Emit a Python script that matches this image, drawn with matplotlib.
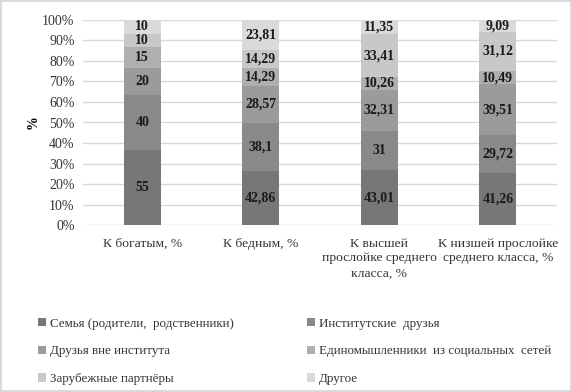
import numpy as np
import matplotlib.pyplot as plt

plt.rcParams['font.family'] = ['Liberation Serif', 'DejaVu Serif']

categories = ['К богатым, %', 'К бедным, %',
              'К высшей\nпрослойке среднего\nкласса, %',
              'К низшей прослойке\nсреднего класса, %']
series_names = ['Семья (родители,  родственники)', 'Институтские  друзья',
                'Друзья вне института', 'Единомышленники  из социальных  сетей',
                'Зарубежные партнёры', 'Другое']
family = [55, 42.86, 43.01, 41.26]
uni_friends = [40, 38.1, 31, 29.72]
other_friends = [20, 28.57, 32.31, 39.51]
social = [15, 14.29, 10.26, 10.49]
foreign = [10, 14.29, 33.41, 31.12]
other = [10, 23.81, 11.35, 9.09]
labels_txt = [
    ['55', '42,86', '43,01', '41,26'],
    ['40', '38,1', '31', '29,72'],
    ['20', '28,57', '32,31', '39,51'],
    ['15', '14,29', '10,26', '10,49'],
    ['10', '14,29', '33,41', '31,12'],
    ['10', '23,81', '11,35', '9,09'],
]
colors = ['#777777', '#898989', '#9b9b9b', '#afafaf', '#c8c8c8', '#dadada']

data = np.array([family, uni_friends, other_friends, social, foreign, other])
pct = data / data.sum(axis=0) * 100

fig = plt.figure(figsize=(5.72, 3.92), dpi=100)
fig.patch.set_edgecolor('#d9d9d9')
fig.patch.set_linewidth(1.5)
ax = fig.add_axes([0.145, 0.426, 0.829, 0.523])

x = np.arange(len(categories))
bottom = np.zeros(len(categories))
bars = []
for i in range(len(series_names)):
    b = ax.bar(x, pct[i], 0.31, bottom=bottom, color=colors[i], label=series_names[i], zorder=2)
    bars.append(b)
    for j in range(len(categories)):
        ax.text(x[j], bottom[j] + pct[i][j] / 2, labels_txt[i][j], ha='center', va='center',
                fontsize=10, fontweight='bold', color='#1a1a1a', zorder=3)
    bottom += pct[i]

ax.set_xlim(-0.5, len(categories) - 0.5)
ax.set_ylim(0, 100)
ax.set_yticks(np.arange(0, 101, 10))
ax.set_yticklabels([f'{v}%' for v in range(0, 101, 10)], fontsize=10, color='#333333')
ax.set_xticks(x)
ax.set_xticklabels(categories, fontsize=9.7, color='#333333', linespacing=1.32)
ax.tick_params(length=0, pad=6)
ax.tick_params(axis='x', pad=9)
ax.yaxis.grid(True, color='#d9d9d9', linewidth=1, zorder=0)
for s in ax.spines.values():
    s.set_visible(False)
ax.set_ylabel('%', fontsize=10, fontweight='bold', labelpad=2)

order = [0, 2, 4, 1, 3, 5]
handles = [bars[k] for k in order]
names = [series_names[k] for k in order]
fig.legend(handles, names, ncol=2, loc='upper left', bbox_to_anchor=(0.058, 0.203),
           frameon=False, fontsize=9.4, handlelength=0.6, handleheight=0.6,
           handletextpad=0.3, labelspacing=1.2, columnspacing=5.6,
           labelcolor='#333333', borderaxespad=0)

fig.savefig('out.png', dpi=100)
